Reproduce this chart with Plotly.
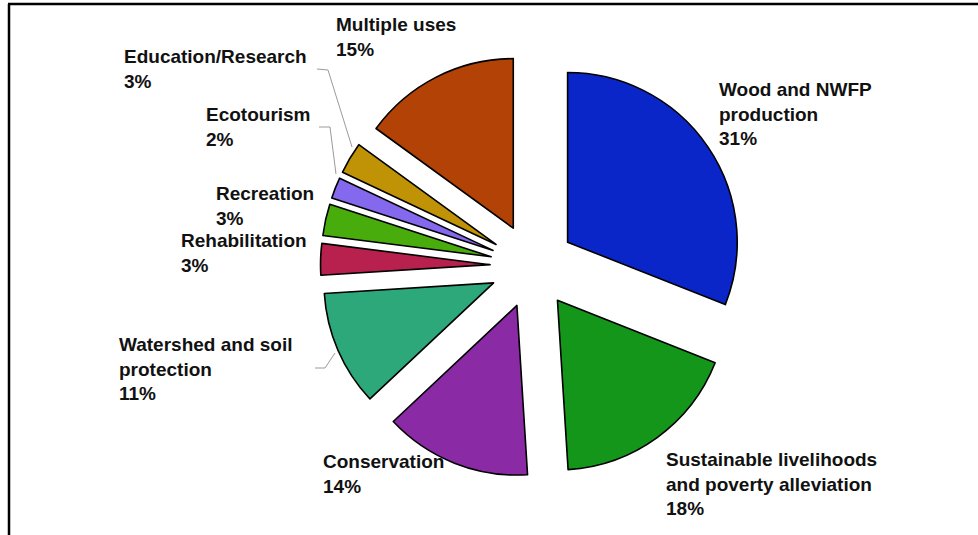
import plotly.graph_objects as go

# Forest management objectives, share of forest area (%)
categories = [
    "Wood and NWFP production",
    "Sustainable livelihoods and poverty alleviation",
    "Conservation",
    "Watershed and soil protection",
    "Rehabilitation",
    "Recreation",
    "Ecotourism",
    "Education/Research",
    "Multiple uses",
]
shares = [31, 18, 14, 11, 3, 3, 2, 3, 15]
label_lines = [
    ["Wood and NWFP", "production"],
    ["Sustainable livelihoods", "and poverty alleviation"],
    ["Conservation"],
    ["Watershed and soil", "protection"],
    ["Rehabilitation"],
    ["Recreation"],
    ["Ecotourism"],
    ["Education/Research"],
    ["Multiple uses"],
]
colors = [
    "#0b26c8", "#13961a", "#8a2aa4", "#2ca87a", "#b8204e",
    "#48ac0c", "#8468ee", "#c09206", "#b24206",
]

W, H = 978, 535


def px(x):
    return x / W


def py(y):
    return 1 - y / H


fig = go.Figure()
fig.add_trace(go.Pie(
    labels=categories,
    values=shares,
    sort=False,
    direction="clockwise",
    rotation=0,
    pull=[0.25] * len(shares),
    marker=dict(colors=colors, line=dict(color="#000000", width=1.6)),
    textinfo="none",
    hoverinfo="label+percent",
    showlegend=False,
    domain=dict(x=[0.2445, 0.8445], y=[0.1065, 0.8991]),
))

# label anchor (left edge, centre of first line) in pixels
label_pos = [
    (717, 90), (664, 460), (321, 462), (117, 345), (179, 241),
    (214, 194), (204, 115), (122, 57), (334, 25),
]
for lines, v, (lx, ly) in zip(label_lines, shares, label_pos):
    text = "<br>".join(lines + [f"{v}%"])
    fig.add_annotation(
        x=px(lx), y=py(ly - 13), xref="paper", yref="paper",
        xanchor="left", yanchor="top", align="left",
        text=text, showarrow=False,
        font=dict(family="Liberation Sans, Arial, sans-serif", size=19,
                  color="#111111", weight="bold"),
    )

# leader lines for the narrow slices
leaders = [
    [(317, 69), (328, 70), (352, 147)],
    [(319, 127), (330, 127), (336, 174)],
    [(315, 368), (325, 368), (335, 353)],
]
for pts in leaders:
    path = "M " + " L ".join(f"{px(x)},{py(y)}" for x, y in pts)
    fig.add_shape(type="path", path=path, xref="paper", yref="paper",
                  line=dict(color="#9a9a9a", width=1))

# frame
fig.add_shape(type="line", xref="paper", yref="paper",
              x0=px(9), y0=py(4), x1=px(9), y1=py(540),
              line=dict(color="#000000", width=2.5))
fig.add_shape(type="line", xref="paper", yref="paper",
              x0=px(8), y0=py(4), x1=px(985), y1=py(4),
              line=dict(color="#000000", width=2.5))

fig.update_layout(
    width=W, height=H,
    margin=dict(l=0, r=0, t=0, b=0),
    paper_bgcolor="#ffffff",
    plot_bgcolor="#ffffff",
)

fig.write_html("out.html")
